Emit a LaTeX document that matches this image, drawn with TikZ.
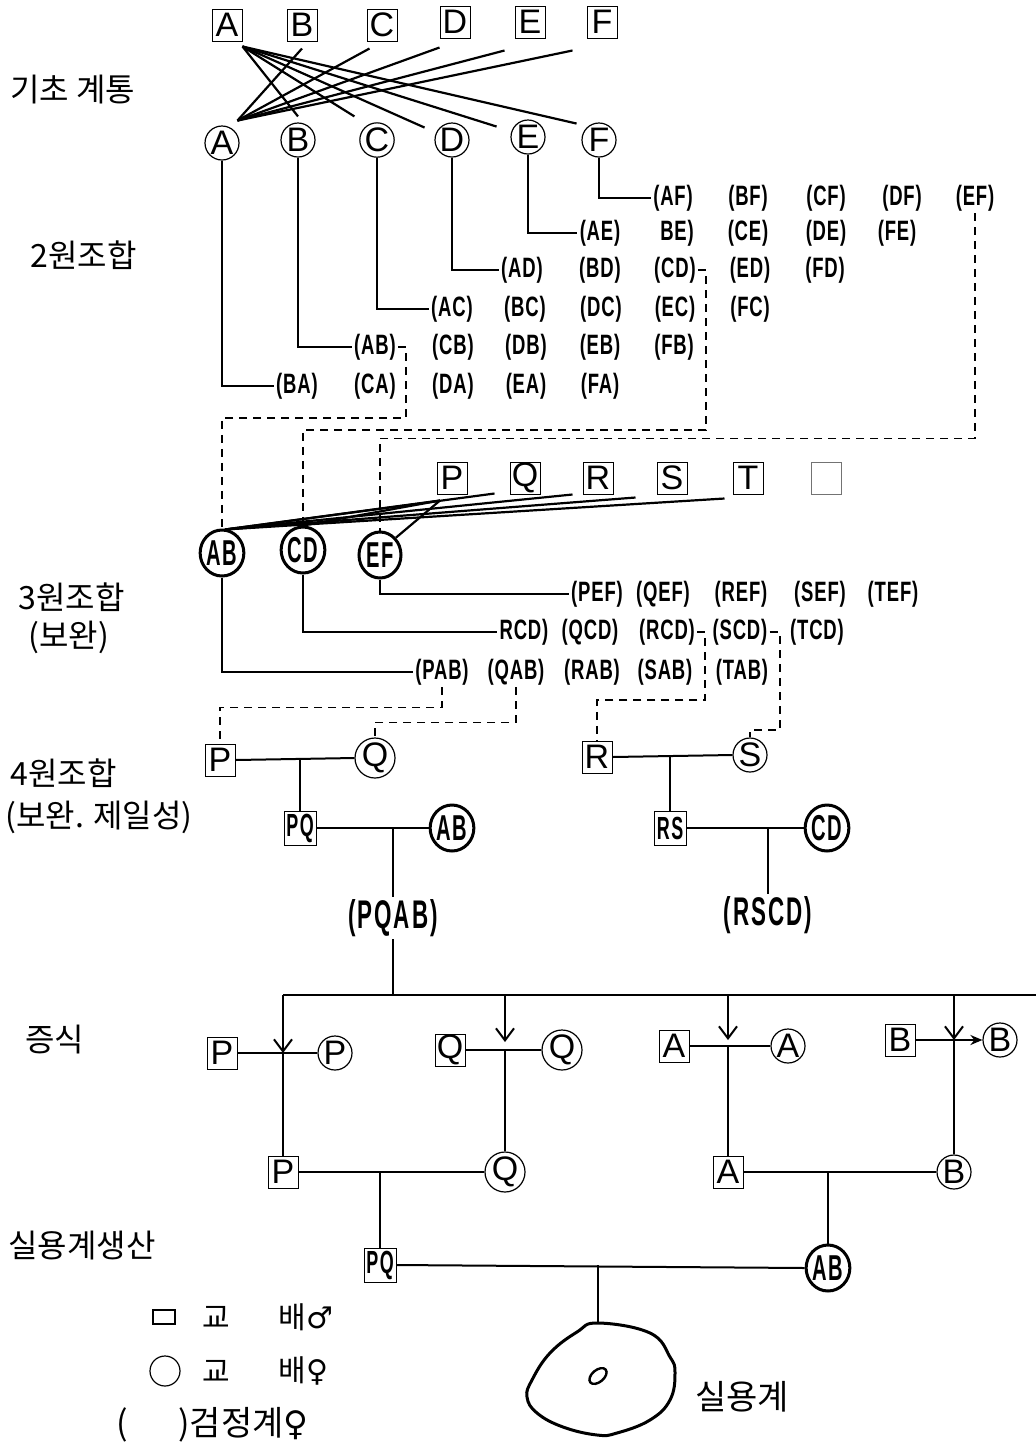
\documentclass[tikz,border=0pt]{standalone}
\usepackage{fontspec}
\usetikzlibrary{shapes.geometric,arrows.meta,calc}
\setmainfont{Liberation Sans}
\newfontfamily\kr{Noto Sans CJK KR}
\newfontfamily\lsans{Liberation Sans}
\newfontfamily\condA[FakeStretch=0.66,LetterSpace=3]{Liberation Sans}
\newfontfamily\condB[FakeStretch=0.56,LetterSpace=5]{Liberation Sans}
\newfontfamily\symf{DejaVu Sans}
\tikzset{
 sq/.style={draw, line width=0.5pt, minimum width=15pt, minimum height=16pt, inner sep=0pt, font=\lsans\fontsize{17}{17}\selectfont},
 ci/.style={circle, draw, line width=0.6pt, minimum size=17pt, inner sep=0pt, font=\lsans\fontsize{17}{17}\selectfont},
 lab/.style={inner sep=1pt, font=\condA\bfseries\fontsize{14}{14}\selectfont},
 labbig/.style={inner sep=1pt, font=\condB\bfseries\fontsize{20}{20}\selectfont},
 blob/.style={ellipse, draw, line width=1.5pt, minimum width=21pt, minimum height=23pt, inner sep=0pt, font=\condB\bfseries\fontsize{18}{18}\selectfont},
 sqc/.style={draw, line width=0.5pt, minimum width=16pt, minimum height=17pt, inner sep=0pt, font=\condB\bfseries\fontsize{16}{16}\selectfont},
 conn/.style={line width=1pt},
 dsh/.style={line width=0.8pt, dash pattern=on 4pt off 3pt},
 ttl/.style={font=\kr\fontsize{16}{16}\selectfont, inner sep=0pt},
 lgt/.style={font=\kr\fontsize{15}{15}\selectfont, inner sep=0pt},
}
\begin{document}
\begin{tikzpicture}[x=0.5pt,y=-0.5pt]
\useasboundingbox (0,0) rectangle (1036,1447);

% ---- left titles
\node[ttl,anchor=west] (t1) at (10,90) {기초 계통};
\node[ttl,anchor=west] (t2) at (30,255) {2원조합};
\node[ttl,anchor=west] (t3) at (18,597) {3원조합};
\node[ttl,anchor=west] (t3b) at (28,637) {(보완)};
\node[ttl,anchor=west] (t4) at (10,773) {4원조합};
\node[ttl,anchor=west] (t4b) at (5,817) {(보완. 제일성)};
\node[ttl,anchor=west] (t5) at (25,1040) {증식};
\node[ttl,anchor=west] (t6) at (8,1245) {실용계생산};

% ---- base lines
\node[sq] (bA) at (227,25) {A};
\node[sq] (bB) at (302,25) {B};
\node[sq] (bC) at (382,25) {C};
\node[sq] (bD) at (455,22) {D};
\node[sq] (bE) at (530,22) {E};
\node[sq] (bF) at (602,22) {F};
\node[ci] (cA) at (222,143) {A};
\node[ci] (cB) at (298,140) {B};
\node[ci] (cC) at (377,140) {C};
\node[ci] (cD) at (452,140) {D};
\node[ci] (cE) at (528,137) {E};
\node[ci] (cF) at (599,140) {F};

\begin{scope}[line width=1.1pt]
\draw ($(bA.south east)+(0,5)$) -- ($(cB.north)+(0,-6)$);
\draw ($(bA.south east)+(0,5)$) -- ($(cC.north west)+(-10,-11)$);
\draw ($(bA.south east)+(0,5)$) -- ($(cD.north west)+(-15,0)$);
\draw ($(bA.south east)+(0,5)$) -- ($(cE.north west)+(-19,2)$);
\draw ($(bA.south east)+(0,5)$) -- ($(cF.north west)+(-10,-4)$);
\draw ($(cA.north east)+(3,-10)$) -- ($(bB.south)+(0,7)$);
\draw ($(cA.north east)+(3,-10)$) -- ($(bC.south west)+(3,7)$);
\draw ($(cA.north east)+(3,-10)$) -- ($(bD.south west)+(0,9)$);
\draw ($(cA.north east)+(3,-10)$) -- ($(bE.south west)+(-10,12)$);
\draw ($(cA.north east)+(3,-10)$) -- ($(bF.south west)+(-14,12)$);
\end{scope}

% ---- two-way combinations
\node[lab] (l2AF) at (673,198) {(AF)};
\node[lab] (l2BF) at (748,198) {(BF)};
\node[lab] (l2CF) at (826,198) {(CF)};
\node[lab] (l2DF) at (902,198) {(DF)};
\node[lab] (l2EF) at (975,198) {(EF)};
\node[lab] (l2AE) at (600,233) {(AE)};
\node[lab] (l2BE) at (677,233) {BE)};
\node[lab] (l2CE) at (748,233) {(CE)};
\node[lab] (l2DE) at (826,233) {(DE)};
\node[lab] (l2FE) at (897,233) {(FE)};
\node[lab] (l2AD) at (522,270) {(AD)};
\node[lab] (l2BD) at (600,270) {(BD)};
\node[lab] (l2CD) at (675,270) {(CD)};
\node[lab] (l2ED) at (750,270) {(ED)};
\node[lab] (l2FD) at (825,270) {(FD)};
\node[lab] (l2AC) at (452,309) {(AC)};
\node[lab] (l2BC) at (525,309) {(BC)};
\node[lab] (l2DC) at (601,309) {(DC)};
\node[lab] (l2EC) at (675,309) {(EC)};
\node[lab] (l2FC) at (750,309) {(FC)};
\node[lab] (l2AB) at (375,347) {(AB)};
\node[lab] (l2CB) at (453,347) {(CB)};
\node[lab] (l2DB) at (526,347) {(DB)};
\node[lab] (l2EB) at (600,347) {(EB)};
\node[lab] (l2FB) at (674,347) {(FB)};
\node[lab] (l2BA) at (297,386) {(BA)};
\node[lab] (l2CA) at (375,386) {(CA)};
\node[lab] (l2DA) at (453,386) {(DA)};
\node[lab] (l2EA) at (526,386) {(EA)};
\node[lab] (l2FA) at (600,386) {(FA)};

\draw[conn] (cA.south) |- (l2BA.west);
\draw[conn] (cB.south) |- (l2AB.west);
\draw[conn] (cC.south) |- (l2AC.west);
\draw[conn] (cD.south) |- (l2AD.west);
\draw[conn] (cE.south) |- (l2AE.west);
\draw[conn] (cF.south) |- (l2AF.west);

% ---- three-way
\node[sq] (bP) at (452,478) {P};
\node[sq] (bQ) at (525,478) {Q};
\node[sq] (bR) at (598,478) {R};
\node[sq] (bS) at (672,478) {S};
\node[sq] (bT) at (748,478) {T};
\node[sq,draw=black!55] (bU) at (826,478) {};
\node[blob] (bAB) at (222,553) {AB};
\node[blob] (bCD) at (303,550) {CD};
\node[blob] (bEF) at (380,555) {EF};

\draw[dsh] (l2AB.east) -- ++(8,0) -- ++(0,71) -| (bAB.north);
\draw[dsh] (l2CD.east) -- ++(8,0) -- ++(0,160) -| (bCD.north);
\draw[dsh] (l2EF.south) -- ++(0,225) -| (bEF.north);

\begin{scope}[line width=1.1pt]
\draw ($(bAB.north)+(3,1)$) -- ($(bP.south)+(-12,6)$);
\draw ($(bAB.north)+(3,1)$) -- ($(bQ.south west)+(-15,-1)$);
\draw ($(bAB.north)+(3,1)$) -- ($(bR.south west)+(-10,0)$);
\draw ($(bAB.north)+(3,1)$) -- ($(bS.south west)+(-21,3)$);
\draw ($(bAB.north)+(3,1)$) -- ($(bT.south west)+(-8,4)$);
\draw (bCD.north) -- ($(bP.south)+(-12,6)$);
\draw (bEF.north east) -- ($(bP.south)+(-12,6)$);
\end{scope}

\node[lab] (l3PEF) at (597,594) {(PEF)};
\node[lab] (l3QEF) at (663,594) {(QEF)};
\node[lab] (l3REF) at (741,594) {(REF)};
\node[lab] (l3SEF) at (820,594) {(SEF)};
\node[lab] (l3TEF) at (893,594) {(TEF)};
\node[lab] (l3PCD) at (524,632) {RCD)};
\node[lab] (l3QCD) at (590,632) {(QCD)};
\node[lab] (l3RCD) at (667,632) {(RCD)};
\node[lab] (l3SCD) at (740,632) {(SCD)};
\node[lab] (l3TCD) at (817,632) {(TCD)};
\node[lab] (l3PAB) at (442,672) {(PAB)};
\node[lab] (l3QAB) at (516,672) {(QAB)};
\node[lab] (l3RAB) at (592,672) {(RAB)};
\node[lab] (l3SAB) at (665,672) {(SAB)};
\node[lab] (l3TAB) at (742,672) {(TAB)};

\draw[conn] (bEF.south) |- (l3PEF.west);
\draw[conn] (bCD.south) |- (l3PCD.west);
\draw[conn] (bAB.south) |- (l3PAB.west);

% ---- four-way
\node[sq] (P4) at (220,760) {P};
\node[ci] (Q4) at (375,758) {Q};
\node[sqc] (PQ) at (300,828) {PQ};
\node[blob] (AB4) at (452,828) {AB};
\node[labbig] (PQAB) at (393,918) {(PQAB)};
\node[sq] (R4) at (597,757) {R};
\node[ci] (S4) at (750,755) {S};
\node[sqc] (RS) at (670,828) {RS};
\node[blob] (CD4) at (827,828) {CD};
\node[labbig] (RSCD) at (768,915) {(RSCD)};

\draw[dsh] (l3PAB.south) -- ++(0,20) -| (P4.north);
\draw[dsh] (l3QAB.south) -- ++(0,35) -| (Q4.north);
\draw[dsh] (l3RCD.east) -- ++(8,0) -- ++(0,68) -| (R4.north);
\draw[dsh] (l3SCD.east) -- ++(10,0) -- ++(0,98) -| (S4.north);

\draw[conn] (P4.east) -- (Q4.west);
\draw[conn] (PQ.north |- P4.east) -- (PQ.north);
\draw[conn] (PQ.east) -- (AB4.west);
\draw[conn] (PQAB.north |- PQ.east) -- (PQAB.north);
\draw[conn] (R4.east) -- (S4.west);
\draw[conn] (RS.north |- R4.east) -- (RS.north);
\draw[conn] (RS.east) -- (CD4.west);
\draw[conn] (RSCD.north |- RS.east) -- (RSCD.north);

% ---- multiplication
\coordinate (h1) at (283,995);
\coordinate (h2) at (505,995);
\coordinate (h3) at (728,995);
\coordinate (h4) at (954,995);
\coordinate (hR) at (1036,995);
\draw[conn] (PQAB.south) -- (PQAB.south |- h1);
\draw[conn] (h1) -- (hR);

\node[sq] (P5) at (222,1053) {P};
\node[ci] (P5c) at (335,1053) {P};
\node[sq] (Q5) at (450,1050) {Q};
\node[ci] (Q5c) at (562,1050) {Q};
\node[sq] (A5) at (674,1046) {A};
\node[ci] (A5c) at (788,1046) {A};
\node[sq] (B5) at (900,1040) {B};
\node[ci] (B5c) at (1000,1040) {B};

\draw[conn] (P5.east) -- (P5c.west);
\draw[conn] (Q5.east) -- (Q5c.west);
\draw[conn] (A5.east) -- (A5c.west);
\draw[conn,-{Stealth[length=6pt,width=5pt]}] (B5.east) -- (B5c.west);

\begin{scope}[conn,-{Straight Barb[length=6pt,width=9pt]}]
\draw (h1) -- (h1 |- P5.east);
\draw (h2) -- ($(h2 |- Q5.east)+(0,-8)$);
\draw (h3) -- ($(h3 |- A5.east)+(0,-6)$);
\draw (h4) -- (h4 |- B5.east);
\end{scope}

\node[sq] (P6) at (283,1172) {P};
\node[ci] (Q6) at (505,1172) {Q};
\node[sq] (A6) at (728,1172) {A};
\node[ci] (B6) at (954,1172) {B};

\draw[conn] (h1 |- P5.east) -- (P6.north);
\draw[conn] (h2 |- Q5.east) -- (Q6.north);
\draw[conn] (h3 |- A5.east) -- (A6.north);
\draw[conn] (h4 |- B5.east) -- (B6.north);

% ---- commercial
\node[sqc] (PQ7) at (380,1265) {PQ};
\node[blob] (AB7) at (828,1268) {AB};
\coordinate (blobtop) at (598,1323);
\draw[conn] (P6.east) -- (Q6.west);
\draw[conn] (PQ7.north |- P6.east) -- (PQ7.north);
\draw[conn] (A6.east) -- (B6.west);
\draw[conn] (AB7.north |- A6.east) -- (AB7.north);
\draw[conn] (PQ7.east) -- (AB7.west);
\draw[conn] (blobtop |- PQ7.east) -- (blobtop);

\draw[line width=1.5pt] plot[smooth cycle, tension=0.7] coordinates {
 (598,1323) (650,1333) (670,1357) (675,1373) (670,1400) (650,1420)
 (617,1433) (597,1435) (563,1427) (537,1413) (527,1397) (532,1380)
 (550,1353) (577,1332)};
\node[ellipse, draw, line width=1.2pt, minimum width=10pt, minimum height=6pt, inner sep=0pt, rotate=40] (inner) at (598,1376) {};
\node[font=\kr\fontsize{17}{17}\selectfont, inner sep=0pt, anchor=west] (sil) at (695,1397) {실용계};

% ---- legend
\node[draw, line width=0.6pt, minimum width=11pt, minimum height=7pt, inner sep=0pt] (lgsq) at (164,1317) {};
\node[lgt] (lg1a) at (216,1317) {교};
\node[lgt,anchor=west] (lg1b) at (278,1317) {배{\symf ♂}};
\node[circle, draw, line width=0.6pt, minimum size=15pt, inner sep=0pt] (lgci) at (165,1371) {};
\node[lgt] (lg2a) at (216,1371) {교};
\node[lgt,anchor=west] (lg2b) at (278,1371) {배{\symf ♀}};
\node[font=\kr\fontsize{17}{17}\selectfont, inner sep=0pt] (lg3a) at (122,1425) {(};
\node[font=\kr\fontsize{17}{17}\selectfont, inner sep=0pt, anchor=west] (lg3b) at (178,1425) {)검정계{\symf ♀}};
\end{tikzpicture}
\end{document}
